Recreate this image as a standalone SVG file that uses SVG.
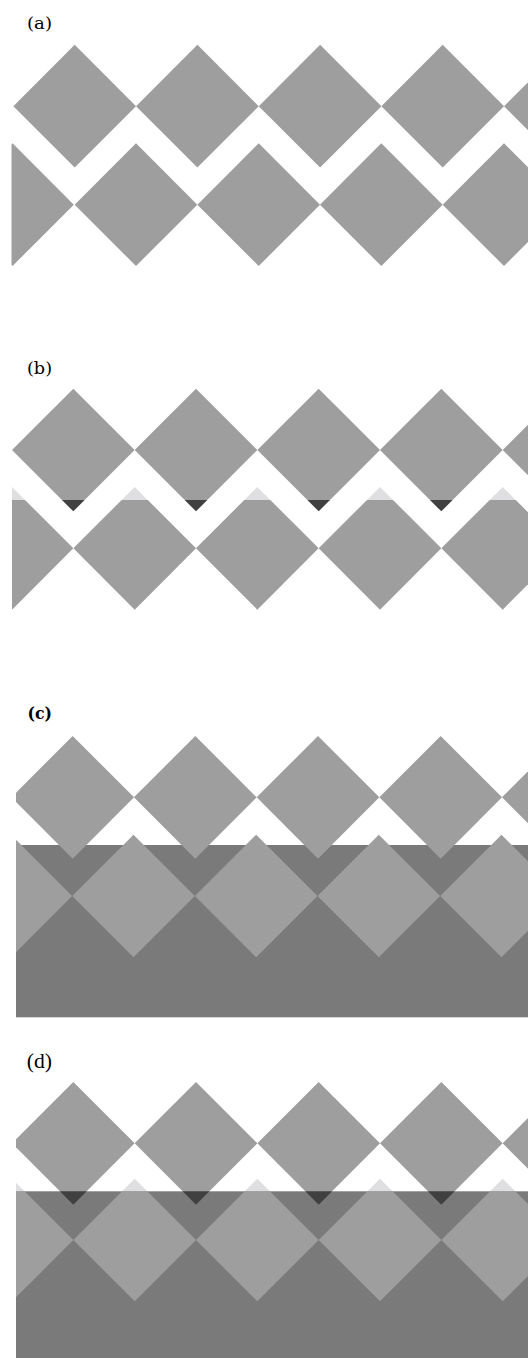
<svg xmlns="http://www.w3.org/2000/svg" xmlns:xlink="http://www.w3.org/1999/xlink" width="528" height="1358" viewBox="0 0 528 1358">
<style>
.g{fill:#9e9e9e}
.lt{fill:#dfdfe1}
.dk{fill:#404040}
.bg{fill:#7a7a7a}
.lab{font-family:"DejaVu Serif","Liberation Serif",serif;font-size:17px;fill:#000}
</style>
<defs>
<path id="dm" d="M0,-61.33 L61.33,0 L0,61.33 L-61.33,0Z"/>
<clipPath id="ca"><rect x="11.5" y="0" width="516.5" height="320"/></clipPath>
<clipPath id="cbTop"><rect x="12" y="330" width="516" height="170"/></clipPath>
<clipPath id="cbBot"><rect x="12" y="500" width="516" height="160"/></clipPath>
<clipPath id="cc"><rect x="16" y="700" width="512" height="340"/></clipPath>
<clipPath id="cdTop"><rect x="16" y="1060" width="512" height="131.3"/></clipPath>
<clipPath id="cdBot"><rect x="16" y="1191.3" width="512" height="170"/></clipPath>
</defs>

<g id="panel-a">
<text class="lab" x="27" y="28.5" textLength="25" lengthAdjust="spacingAndGlyphs">(a)</text>
<g clip-path="url(#ca)" class="g">
<use xlink:href="#dm" x="74.7" y="106.2"/>
<use xlink:href="#dm" x="197.4" y="106.2"/>
<use xlink:href="#dm" x="320.1" y="106.2"/>
<use xlink:href="#dm" x="442.7" y="106.2"/>
<use xlink:href="#dm" x="565.4" y="106.2"/>
<use xlink:href="#dm" x="12.5" y="204.7"/>
<use xlink:href="#dm" x="136" y="204.7"/>
<use xlink:href="#dm" x="258.7" y="204.7"/>
<use xlink:href="#dm" x="381.3" y="204.7"/>
<use xlink:href="#dm" x="504" y="204.7"/>
</g>
</g>

<g id="panel-b">
<text class="lab" x="27" y="373.5" textLength="25" lengthAdjust="spacingAndGlyphs">(b)</text>
<g id="b-top-upper" clip-path="url(#cbTop)" class="g">
<use xlink:href="#dm" x="73.3" y="450"/>
<use xlink:href="#dm" x="196" y="450"/>
<use xlink:href="#dm" x="318.7" y="450"/>
<use xlink:href="#dm" x="441.3" y="450"/>
<use xlink:href="#dm" x="564" y="450"/>
</g>
<g id="b-top-lower" clip-path="url(#cbBot)" class="dk">
<use xlink:href="#dm" x="73.3" y="450"/>
<use xlink:href="#dm" x="196" y="450"/>
<use xlink:href="#dm" x="318.7" y="450"/>
<use xlink:href="#dm" x="441.3" y="450"/>
<use xlink:href="#dm" x="564" y="450"/>
</g>
<g id="b-bot-upper" clip-path="url(#cbTop)" class="lt">
<use xlink:href="#dm" x="12" y="548.3"/>
<use xlink:href="#dm" x="134.7" y="548.3"/>
<use xlink:href="#dm" x="257.3" y="548.3"/>
<use xlink:href="#dm" x="380" y="548.3"/>
<use xlink:href="#dm" x="502.7" y="548.3"/>
</g>
<g id="b-bot-lower" clip-path="url(#cbBot)" class="g">
<use xlink:href="#dm" x="12" y="548.3"/>
<use xlink:href="#dm" x="134.7" y="548.3"/>
<use xlink:href="#dm" x="257.3" y="548.3"/>
<use xlink:href="#dm" x="380" y="548.3"/>
<use xlink:href="#dm" x="502.7" y="548.3"/>
</g>
</g>

<g id="panel-c">
<text class="lab" x="27.5" y="718.5" font-weight="bold" textLength="24.5" lengthAdjust="spacingAndGlyphs">(c)</text>
<rect class="bg" x="16" y="845" width="512" height="172.3"/>
<g clip-path="url(#cc)" class="g">
<use xlink:href="#dm" x="72.7" y="797.3"/>
<use xlink:href="#dm" x="195.3" y="797.3"/>
<use xlink:href="#dm" x="318" y="797.3"/>
<use xlink:href="#dm" x="440.7" y="797.3"/>
<use xlink:href="#dm" x="563.3" y="797.3"/>
<use xlink:href="#dm" x="10.8" y="896"/>
<use xlink:href="#dm" x="133.5" y="896"/>
<use xlink:href="#dm" x="256.2" y="896"/>
<use xlink:href="#dm" x="378.8" y="896"/>
<use xlink:href="#dm" x="501.5" y="896"/>
</g>
</g>

<g id="panel-d">
<text x="26.7" y="1068" font-family="'Liberation Serif','DejaVu Serif',serif" font-size="21" textLength="25.3" lengthAdjust="spacingAndGlyphs">(d)</text>
<rect class="bg" x="16" y="1191.3" width="512" height="166.7"/>
<g id="d-top-upper" clip-path="url(#cdTop)" class="g">
<use xlink:href="#dm" x="73.3" y="1143.3"/>
<use xlink:href="#dm" x="196" y="1143.3"/>
<use xlink:href="#dm" x="318.7" y="1143.3"/>
<use xlink:href="#dm" x="441.3" y="1143.3"/>
<use xlink:href="#dm" x="564" y="1143.3"/>
</g>
<g id="d-top-lower" clip-path="url(#cdBot)" class="dk">
<use xlink:href="#dm" x="73.3" y="1143.3"/>
<use xlink:href="#dm" x="196" y="1143.3"/>
<use xlink:href="#dm" x="318.7" y="1143.3"/>
<use xlink:href="#dm" x="441.3" y="1143.3"/>
<use xlink:href="#dm" x="564" y="1143.3"/>
</g>
<g id="d-bot-upper" clip-path="url(#cdTop)" class="lt">
<use xlink:href="#dm" x="12" y="1240"/>
<use xlink:href="#dm" x="134.7" y="1240"/>
<use xlink:href="#dm" x="257.3" y="1240"/>
<use xlink:href="#dm" x="380" y="1240"/>
<use xlink:href="#dm" x="502.7" y="1240"/>
</g>
<g id="d-bot-lower" clip-path="url(#cdBot)" class="g">
<use xlink:href="#dm" x="12" y="1240"/>
<use xlink:href="#dm" x="134.7" y="1240"/>
<use xlink:href="#dm" x="257.3" y="1240"/>
<use xlink:href="#dm" x="380" y="1240"/>
<use xlink:href="#dm" x="502.7" y="1240"/>
</g>
</g>
</svg>
